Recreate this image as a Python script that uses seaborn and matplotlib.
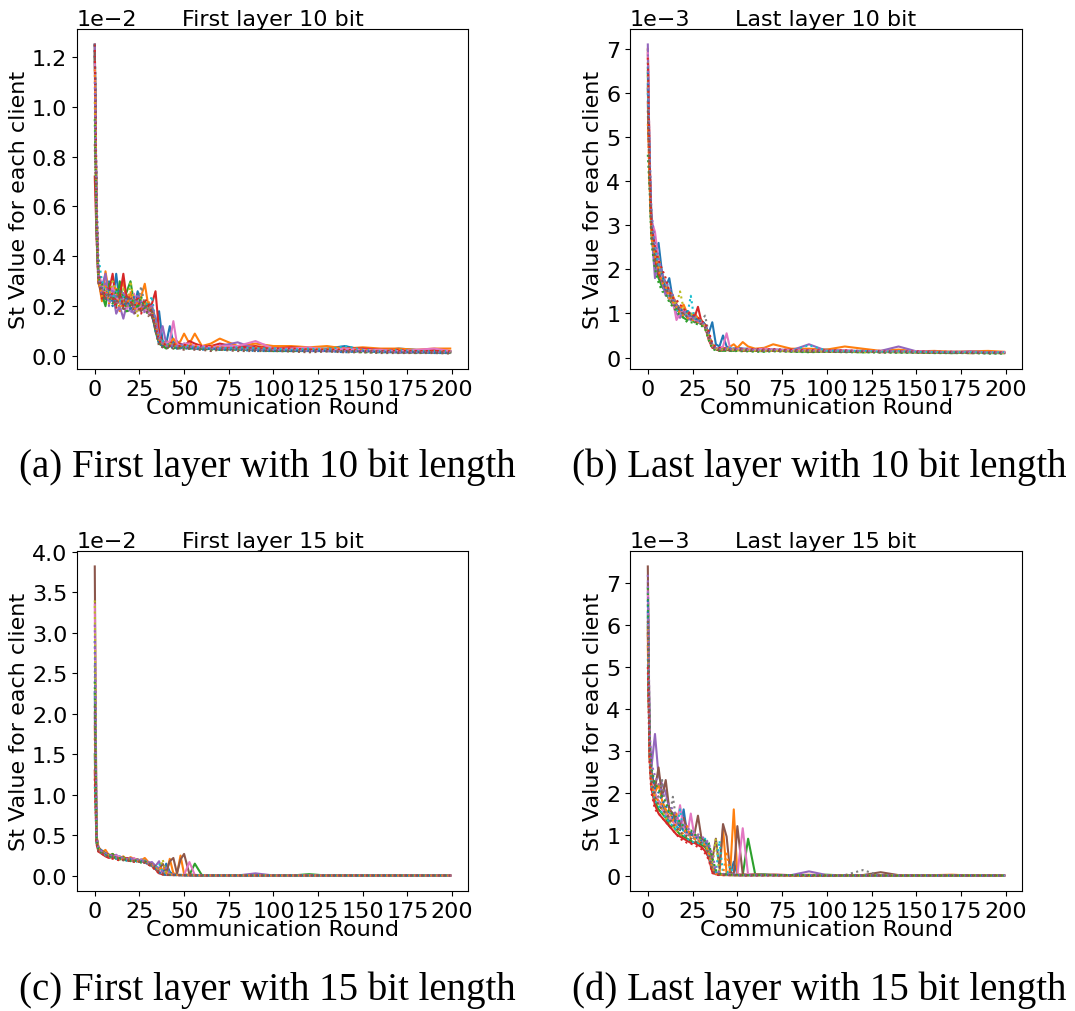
import numpy as np
import pandas as pd
import matplotlib
matplotlib.use("Agg")
import matplotlib.pyplot as plt
import seaborn as sns

# ---------------- data ----------------
rounds = [0, 1, 2, 4, 6, 8, 10, 12, 14, 16,
          18, 20, 22, 24, 26, 28, 30, 32, 34, 36,
          38, 40, 42, 44, 46, 48, 50, 53, 56, 60,
          65, 70, 80, 90, 100, 110, 120, 130, 140, 150,
          160, 170, 180, 190, 199]

client_colors = ["#1f77b4", "#ff7f0e", "#2ca02c", "#d62728", "#9467bd",
                 "#8c564b", "#e377c2", "#7f7f7f", "#bcbd22", "#17becf",
                 "#1f77b4", "#ff7f0e", "#2ca02c", "#d62728", "#9467bd",
                 "#8c564b"]
client_styles = ["-", "-", "-", "-", "-", "-", "-", ":", ":", ":",
                 ":", ":", ":", ":", ":", ":"]

# Panel (a): first layer, 10 bit (units of 1e-2)
first10 = [
    [1.25, 0.55, 0.33, 0.26, 0.24, 0.30, 0.22, 0.33, 0.21, 0.24,
     0.20, 0.23, 0.19, 0.26, 0.21, 0.20, 0.18, 0.16, 0.12, 0.18,
     0.06, 0.05, 0.12, 0.05, 0.06, 0.04, 0.05, 0.04, 0.04, 0.03,
     0.035, 0.03, 0.04, 0.03, 0.035, 0.025, 0.03, 0.03, 0.04, 0.025,
     0.02, 0.03, 0.025, 0.02, 0.02],
    [1.25, 0.60, 0.31, 0.22, 0.34, 0.25, 0.27, 0.22, 0.26, 0.30,
     0.21, 0.25, 0.22, 0.20, 0.24, 0.29, 0.20, 0.19, 0.14, 0.08,
     0.05, 0.06, 0.05, 0.07, 0.05, 0.06, 0.09, 0.05, 0.09, 0.04,
     0.05, 0.07, 0.04, 0.05, 0.04, 0.04, 0.035, 0.04, 0.03, 0.035,
     0.03, 0.03, 0.025, 0.03, 0.03],
    [1.20, 0.52, 0.34, 0.25, 0.20, 0.29, 0.24, 0.20, 0.30, 0.22,
     0.26, 0.30, 0.21, 0.20, 0.19, 0.22, 0.19, 0.17, 0.10, 0.05,
     0.04, 0.03, 0.04, 0.05, 0.03, 0.04, 0.03, 0.04, 0.03, 0.03,
     0.03, 0.025, 0.03, 0.025, 0.02, 0.025, 0.02, 0.025, 0.02, 0.02,
     0.02, 0.015, 0.02, 0.015, 0.015],
    [0.72, 0.48, 0.30, 0.27, 0.23, 0.26, 0.33, 0.21, 0.24, 0.33,
     0.22, 0.20, 0.24, 0.21, 0.22, 0.19, 0.20, 0.21, 0.26, 0.10,
     0.05, 0.04, 0.06, 0.04, 0.05, 0.05, 0.04, 0.06, 0.05, 0.04,
     0.04, 0.05, 0.035, 0.04, 0.03, 0.035, 0.03, 0.025, 0.03, 0.03,
     0.025, 0.025, 0.02, 0.025, 0.02],
    [1.25, 0.50, 0.32, 0.28, 0.33, 0.22, 0.26, 0.17, 0.20, 0.15,
     0.21, 0.19, 0.17, 0.22, 0.20, 0.18, 0.19, 0.20, 0.15, 0.07,
     0.12, 0.05, 0.04, 0.05, 0.04, 0.03, 0.04, 0.035, 0.03, 0.04,
     0.03, 0.04, 0.055, 0.03, 0.03, 0.025, 0.02, 0.025, 0.025, 0.02,
     0.02, 0.02, 0.02, 0.015, 0.015],
    [1.22, 0.58, 0.30, 0.24, 0.26, 0.24, 0.23, 0.25, 0.22, 0.20,
     0.24, 0.21, 0.20, 0.19, 0.18, 0.20, 0.18, 0.16, 0.11, 0.06,
     0.04, 0.04, 0.05, 0.04, 0.04, 0.035, 0.04, 0.03, 0.035, 0.03,
     0.03, 0.03, 0.03, 0.025, 0.025, 0.02, 0.025, 0.02, 0.02, 0.02,
     0.02, 0.015, 0.015, 0.015, 0.015],
    [1.18, 0.62, 0.33, 0.29, 0.25, 0.22, 0.28, 0.24, 0.21, 0.23,
     0.19, 0.22, 0.25, 0.18, 0.21, 0.19, 0.17, 0.18, 0.13, 0.07,
     0.05, 0.05, 0.06, 0.14, 0.05, 0.04, 0.05, 0.05, 0.04, 0.04,
     0.035, 0.04, 0.04, 0.06, 0.03, 0.03, 0.035, 0.025, 0.03, 0.025,
     0.025, 0.02, 0.025, 0.03, 0.02],
    [1.25, 0.56, 0.32, 0.27, 0.24, 0.23, 0.25, 0.22, 0.24, 0.21,
     0.22, 0.20, 0.23, 0.21, 0.28, 0.20, 0.19, 0.20, 0.14, 0.08,
     0.05, 0.05, 0.04, 0.05, 0.04, 0.04, 0.035, 0.04, 0.035, 0.03,
     0.03, 0.035, 0.03, 0.03, 0.025, 0.025, 0.02, 0.025, 0.02, 0.02,
     0.02, 0.015, 0.02, 0.015, 0.012],
    [1.02, 0.54, 0.31, 0.26, 0.28, 0.24, 0.30, 0.26, 0.19, 0.27,
     0.18, 0.30, 0.22, 0.16, 0.23, 0.21, 0.18, 0.19, 0.12, 0.06,
     0.045, 0.04, 0.05, 0.045, 0.04, 0.04, 0.03, 0.035, 0.04, 0.03,
     0.03, 0.03, 0.025, 0.03, 0.025, 0.02, 0.025, 0.02, 0.02, 0.02,
     0.015, 0.02, 0.015, 0.015, 0.015],
    [1.25, 0.66, 0.40, 0.30, 0.27, 0.25, 0.23, 0.26, 0.22, 0.24,
     0.20, 0.22, 0.21, 0.23, 0.19, 0.22, 0.20, 0.24, 0.13, 0.07,
     0.06, 0.05, 0.04, 0.05, 0.04, 0.045, 0.04, 0.04, 0.035, 0.035,
     0.03, 0.03, 0.035, 0.03, 0.03, 0.025, 0.03, 0.025, 0.04, 0.025,
     0.02, 0.025, 0.02, 0.02, 0.02],
    [1.25, 0.58, 0.34, 0.27, 0.22, 0.27, 0.20, 0.24, 0.27, 0.19,
     0.23, 0.18, 0.24, 0.20, 0.22, 0.19, 0.21, 0.18, 0.10, 0.05,
     0.04, 0.04, 0.03, 0.04, 0.03, 0.035, 0.03, 0.03, 0.03, 0.025,
     0.03, 0.025, 0.025, 0.02, 0.02, 0.02, 0.02, 0.02, 0.015, 0.02,
     0.015, 0.015, 0.015, 0.012, 0.012],
    [1.15, 0.53, 0.30, 0.24, 0.29, 0.21, 0.25, 0.28, 0.18, 0.22,
     0.20, 0.26, 0.18, 0.22, 0.19, 0.21, 0.22, 0.18, 0.13, 0.06,
     0.05, 0.04, 0.05, 0.04, 0.05, 0.04, 0.04, 0.05, 0.04, 0.035,
     0.04, 0.035, 0.03, 0.035, 0.03, 0.03, 0.025, 0.03, 0.025, 0.025,
     0.02, 0.025, 0.02, 0.02, 0.02],
    [0.95, 0.50, 0.31, 0.29, 0.25, 0.23, 0.21, 0.27, 0.23, 0.25,
     0.17, 0.21, 0.23, 0.19, 0.24, 0.18, 0.17, 0.19, 0.11, 0.05,
     0.04, 0.035, 0.04, 0.03, 0.035, 0.03, 0.035, 0.03, 0.03, 0.03,
     0.025, 0.03, 0.025, 0.025, 0.02, 0.02, 0.02, 0.02, 0.02, 0.015,
     0.015, 0.015, 0.012, 0.015, 0.012],
    [1.25, 0.61, 0.35, 0.23, 0.26, 0.28, 0.24, 0.19, 0.25, 0.20,
     0.25, 0.22, 0.19, 0.24, 0.17, 0.23, 0.21, 0.17, 0.12, 0.06,
     0.05, 0.045, 0.04, 0.05, 0.04, 0.04, 0.045, 0.04, 0.035, 0.04,
     0.035, 0.03, 0.035, 0.03, 0.03, 0.03, 0.025, 0.025, 0.025, 0.02,
     0.02, 0.02, 0.02, 0.02, 0.018],
    [1.10, 0.57, 0.32, 0.25, 0.30, 0.20, 0.27, 0.23, 0.18, 0.26,
     0.21, 0.17, 0.20, 0.25, 0.22, 0.17, 0.18, 0.21, 0.14, 0.07,
     0.05, 0.04, 0.045, 0.04, 0.04, 0.05, 0.035, 0.04, 0.03, 0.035,
     0.03, 0.03, 0.03, 0.025, 0.025, 0.025, 0.02, 0.02, 0.02, 0.02,
     0.018, 0.015, 0.015, 0.015, 0.015],
    [0.85, 0.47, 0.29, 0.26, 0.23, 0.25, 0.22, 0.21, 0.26, 0.18,
     0.22, 0.24, 0.17, 0.18, 0.20, 0.21, 0.16, 0.18, 0.10, 0.04,
     0.035, 0.03, 0.035, 0.03, 0.03, 0.03, 0.025, 0.03, 0.025, 0.025,
     0.02, 0.025, 0.02, 0.02, 0.02, 0.018, 0.015, 0.018, 0.015, 0.015,
     0.012, 0.012, 0.012, 0.012, 0.01],
]

# Panel (b): last layer, 10 bit (units of 1e-3)
last10 = [
    [6.2, 4.2, 3.25, 2.4, 2.6, 1.9, 1.6, 1.8, 1.3, 1.2,
     1.1, 1.0, 0.95, 1.0, 0.9, 0.85, 0.8, 0.75, 0.55, 0.80,
     0.3, 0.25, 0.5, 0.25, 0.2, 0.2, 0.22, 0.2, 0.2, 0.18,
     0.2, 0.18, 0.17, 0.16, 0.18, 0.15, 0.15, 0.14, 0.15, 0.13,
     0.12, 0.13, 0.12, 0.12, 0.11],
    [7.0, 4.5, 3.1, 2.3, 2.0, 1.8, 1.7, 1.5, 1.4, 1.2,
     1.1, 1.2, 1.0, 0.95, 1.0, 0.9, 0.85, 0.7, 0.5, 0.3,
     0.2, 0.18, 0.22, 0.2, 0.25, 0.3, 0.22, 0.35, 0.25, 0.2,
     0.22, 0.3, 0.2, 0.2, 0.18, 0.25, 0.2, 0.15, 0.18, 0.14,
     0.15, 0.13, 0.14, 0.15, 0.13],
    [6.5, 4.0, 2.8, 2.1, 1.8, 1.6, 1.5, 1.3, 1.2, 1.1,
     1.0, 0.9, 0.85, 0.9, 0.8, 0.8, 0.75, 0.7, 0.45, 0.25,
     0.18, 0.16, 0.15, 0.17, 0.16, 0.15, 0.17, 0.16, 0.15, 0.15,
     0.14, 0.16, 0.14, 0.13, 0.14, 0.13, 0.12, 0.13, 0.12, 0.12,
     0.11, 0.1, 0.11, 0.1, 0.1],
    [5.8, 4.1, 3.0, 2.2, 1.9, 1.7, 1.5, 1.4, 1.3, 1.2,
     1.05, 1.0, 1.0, 0.95, 0.9, 1.15, 0.8, 0.7, 0.4, 0.22,
     0.2, 0.15, 0.18, 0.2, 0.15, 0.18, 0.2, 0.15, 0.18, 0.16,
     0.15, 0.15, 0.18, 0.14, 0.15, 0.14, 0.15, 0.12, 0.13, 0.12,
     0.11, 0.12, 0.1, 0.11, 0.1],
    [7.1, 4.4, 2.9, 1.8, 2.2, 1.7, 1.4, 1.5, 1.2, 1.0,
     0.9, 1.1, 0.9, 0.85, 0.95, 0.8, 0.78, 0.72, 0.5, 0.3,
     0.22, 0.2, 0.18, 0.22, 0.18, 0.2, 0.18, 0.2, 0.17, 0.18,
     0.2, 0.17, 0.16, 0.3, 0.15, 0.16, 0.14, 0.15, 0.25, 0.14,
     0.13, 0.12, 0.14, 0.12, 0.12],
    [6.1, 4.3, 3.0, 2.4, 2.0, 1.8, 1.6, 1.4, 1.3, 1.2,
     1.1, 1.0, 0.95, 0.9, 0.9, 0.85, 0.8, 0.75, 0.5, 0.28,
     0.2, 0.18, 0.2, 0.17, 0.18, 0.2, 0.17, 0.18, 0.16, 0.17,
     0.15, 0.16, 0.15, 0.15, 0.14, 0.13, 0.14, 0.13, 0.13, 0.12,
     0.12, 0.11, 0.12, 0.11, 0.11],
    [6.9, 4.6, 3.1, 2.85, 2.2, 1.8, 1.7, 1.3, 1.3, 0.85,
     1.0, 1.1, 0.95, 0.9, 0.85, 0.8, 0.8, 0.7, 0.45, 0.25,
     0.2, 0.22, 0.25, 0.55, 0.2, 0.18, 0.2, 0.18, 0.2, 0.17,
     0.2, 0.18, 0.17, 0.16, 0.15, 0.16, 0.14, 0.15, 0.13, 0.14,
     0.12, 0.13, 0.12, 0.11, 0.12],
    [6.7, 4.4, 3.0, 2.3, 2.1, 1.9, 1.7, 1.5, 1.3, 1.2,
     1.1, 1.05, 1.0, 0.95, 0.9, 0.85, 0.85, 0.95, 0.55, 0.3,
     0.22, 0.2, 0.2, 0.18, 0.2, 0.18, 0.2, 0.17, 0.18, 0.17,
     0.16, 0.17, 0.16, 0.15, 0.15, 0.14, 0.14, 0.13, 0.14, 0.12,
     0.12, 0.12, 0.11, 0.11, 0.1],
    [6.4, 4.2, 2.9, 2.4, 2.3, 1.8, 1.6, 1.5, 1.3, 1.2,
     1.5, 1.1, 1.0, 1.0, 0.9, 0.85, 0.8, 0.7, 0.5, 0.3,
     0.2, 0.2, 0.18, 0.2, 0.17, 0.18, 0.16, 0.17, 0.16, 0.15,
     0.15, 0.15, 0.14, 0.15, 0.13, 0.14, 0.12, 0.13, 0.12, 0.12,
     0.11, 0.12, 0.1, 0.11, 0.1],
    [6.0, 4.7, 3.2, 2.5, 2.1, 1.9, 1.6, 1.4, 1.25, 1.1,
     1.0, 1.0, 0.95, 1.4, 0.85, 0.85, 0.8, 0.7, 0.45, 0.25,
     0.2, 0.18, 0.2, 0.18, 0.22, 0.2, 0.18, 0.2, 0.18, 0.16,
     0.17, 0.16, 0.15, 0.28, 0.15, 0.14, 0.15, 0.13, 0.14, 0.13,
     0.12, 0.12, 0.12, 0.11, 0.12],
    [6.6, 4.3, 3.1, 2.2, 1.9, 1.9, 1.5, 1.6, 1.4, 1.1,
     1.15, 0.95, 1.05, 0.9, 0.95, 0.8, 0.85, 0.75, 0.5, 0.27,
     0.21, 0.19, 0.17, 0.19, 0.18, 0.17, 0.19, 0.17, 0.17, 0.16,
     0.16, 0.15, 0.15, 0.14, 0.14, 0.13, 0.13, 0.13, 0.12, 0.12,
     0.11, 0.11, 0.11, 0.1, 0.1],
    [5.3, 3.9, 2.7, 2.3, 2.0, 1.7, 1.6, 1.35, 1.25, 1.15,
     1.0, 0.95, 0.9, 0.85, 0.85, 0.8, 0.75, 0.65, 0.42, 0.23,
     0.18, 0.17, 0.18, 0.16, 0.17, 0.19, 0.16, 0.18, 0.17, 0.16,
     0.18, 0.16, 0.17, 0.15, 0.16, 0.15, 0.14, 0.14, 0.13, 0.13,
     0.12, 0.12, 0.13, 0.12, 0.11],
    [4.6, 3.8, 2.6, 2.0, 1.7, 1.5, 1.45, 1.25, 1.15, 1.05,
     0.95, 0.9, 0.8, 0.8, 0.78, 0.75, 0.72, 0.65, 0.4, 0.2,
     0.16, 0.15, 0.16, 0.15, 0.15, 0.14, 0.15, 0.14, 0.14, 0.13,
     0.13, 0.14, 0.13, 0.12, 0.13, 0.12, 0.12, 0.11, 0.11, 0.11,
     0.1, 0.1, 0.1, 0.09, 0.09],
    [6.8, 4.5, 3.0, 2.5, 2.2, 2.0, 1.8, 1.5, 1.35, 1.3,
     1.2, 1.1, 1.05, 1.0, 0.95, 0.9, 0.82, 0.78, 0.6, 0.32,
     0.24, 0.22, 0.21, 0.2, 0.19, 0.21, 0.19, 0.2, 0.18, 0.19,
     0.18, 0.19, 0.17, 0.17, 0.16, 0.16, 0.15, 0.15, 0.14, 0.14,
     0.13, 0.13, 0.12, 0.12, 0.12],
    [7.0, 4.6, 3.3, 2.6, 2.3, 1.9, 1.7, 1.6, 1.4, 1.2,
     1.1, 1.05, 0.95, 0.92, 0.88, 0.83, 0.8, 0.73, 0.52, 0.28,
     0.2, 0.19, 0.2, 0.18, 0.19, 0.18, 0.19, 0.18, 0.17, 0.17,
     0.16, 0.17, 0.15, 0.16, 0.15, 0.14, 0.15, 0.14, 0.14, 0.13,
     0.13, 0.12, 0.12, 0.12, 0.11],
    [5.6, 4.0, 2.8, 2.2, 1.9, 1.75, 1.55, 1.45, 1.2, 1.15,
     1.05, 0.98, 0.92, 0.88, 0.82, 0.78, 0.76, 0.68, 0.47, 0.24,
     0.19, 0.17, 0.17, 0.18, 0.16, 0.17, 0.16, 0.16, 0.16, 0.15,
     0.15, 0.15, 0.14, 0.14, 0.13, 0.13, 0.13, 0.12, 0.12, 0.12,
     0.11, 0.11, 0.1, 0.1, 0.1],
]

# Panel (c): first layer, 15 bit (units of 1e-2)
first15 = [
    [2.27, 0.45, 0.33, 0.30, 0.28, 0.26, 0.25, 0.22, 0.24, 0.21,
     0.22, 0.20, 0.21, 0.19, 0.20, 0.18, 0.16, 0.14, 0.10, 0.05,
     0.02, 0.15, 0.05, 0.01, 0.01, 0.01, 0.008, 0.008, 0.006, 0.005,
     0.005, 0.004, 0.004, 0.004, 0.004, 0.003, 0.003, 0.003, 0.003, 0.003,
     0.003, 0.003, 0.003, 0.003, 0.003],
    [1.85, 0.50, 0.36, 0.29, 0.32, 0.25, 0.27, 0.23, 0.22, 0.24,
     0.20, 0.23, 0.21, 0.20, 0.19, 0.22, 0.17, 0.14, 0.12, 0.06,
     0.03, 0.02, 0.21, 0.03, 0.02, 0.25, 0.02, 0.01, 0.008, 0.006,
     0.005, 0.005, 0.004, 0.004, 0.004, 0.003, 0.003, 0.003, 0.003, 0.003,
     0.003, 0.003, 0.003, 0.003, 0.003],
    [1.50, 0.42, 0.32, 0.28, 0.26, 0.24, 0.27, 0.22, 0.20, 0.23,
     0.19, 0.21, 0.18, 0.20, 0.17, 0.18, 0.15, 0.13, 0.09, 0.05,
     0.03, 0.02, 0.01, 0.01, 0.01, 0.01, 0.01, 0.01, 0.15, 0.006,
     0.005, 0.005, 0.004, 0.004, 0.004, 0.003, 0.02, 0.003, 0.003, 0.003,
     0.003, 0.003, 0.003, 0.003, 0.003],
    [1.30, 0.40, 0.30, 0.27, 0.24, 0.22, 0.25, 0.21, 0.23, 0.20,
     0.22, 0.19, 0.20, 0.18, 0.19, 0.17, 0.14, 0.12, 0.08, 0.03,
     0.02, 0.01, 0.01, 0.01, 0.01, 0.008, 0.008, 0.007, 0.006, 0.005,
     0.005, 0.004, 0.004, 0.004, 0.003, 0.003, 0.003, 0.003, 0.003, 0.003,
     0.003, 0.003, 0.003, 0.003, 0.003],
    [2.00, 0.44, 0.34, 0.30, 0.27, 0.25, 0.23, 0.26, 0.22, 0.21,
     0.20, 0.22, 0.19, 0.18, 0.20, 0.19, 0.16, 0.17, 0.12, 0.18,
     0.04, 0.02, 0.01, 0.01, 0.01, 0.01, 0.008, 0.007, 0.006, 0.005,
     0.005, 0.005, 0.004, 0.03, 0.004, 0.003, 0.003, 0.003, 0.003, 0.003,
     0.003, 0.003, 0.003, 0.003, 0.003],
    [3.82, 0.48, 0.35, 0.31, 0.28, 0.26, 0.24, 0.23, 0.21, 0.22,
     0.20, 0.21, 0.19, 0.20, 0.18, 0.17, 0.16, 0.14, 0.12, 0.08,
     0.15, 0.05, 0.18, 0.22, 0.03, 0.20, 0.27, 0.02, 0.01, 0.008,
     0.006, 0.005, 0.004, 0.004, 0.004, 0.003, 0.003, 0.003, 0.003, 0.003,
     0.003, 0.003, 0.003, 0.003, 0.003],
    [3.35, 0.46, 0.33, 0.29, 0.26, 0.24, 0.22, 0.25, 0.23, 0.21,
     0.19, 0.20, 0.22, 0.18, 0.19, 0.16, 0.15, 0.13, 0.10, 0.06,
     0.03, 0.02, 0.01, 0.01, 0.01, 0.01, 0.01, 0.17, 0.01, 0.01,
     0.006, 0.005, 0.004, 0.004, 0.004, 0.003, 0.003, 0.003, 0.003, 0.003,
     0.003, 0.003, 0.003, 0.003, 0.003],
    [2.60, 0.43, 0.31, 0.28, 0.25, 0.23, 0.22, 0.21, 0.22, 0.20,
     0.19, 0.18, 0.20, 0.17, 0.18, 0.16, 0.15, 0.12, 0.09, 0.04,
     0.02, 0.01, 0.01, 0.01, 0.01, 0.008, 0.008, 0.007, 0.006, 0.005,
     0.005, 0.004, 0.004, 0.004, 0.003, 0.003, 0.003, 0.003, 0.003, 0.003,
     0.003, 0.003, 0.003, 0.003, 0.003],
    [3.40, 0.47, 0.34, 0.30, 0.27, 0.25, 0.24, 0.22, 0.20, 0.21,
     0.22, 0.19, 0.18, 0.20, 0.17, 0.20, 0.16, 0.14, 0.11, 0.06,
     0.20, 0.03, 0.02, 0.01, 0.01, 0.01, 0.008, 0.007, 0.006, 0.005,
     0.005, 0.004, 0.004, 0.004, 0.003, 0.003, 0.003, 0.003, 0.003, 0.003,
     0.003, 0.003, 0.003, 0.003, 0.003],
    [1.10, 0.41, 0.32, 0.29, 0.26, 0.24, 0.23, 0.21, 0.20, 0.22,
     0.18, 0.20, 0.19, 0.17, 0.18, 0.17, 0.15, 0.13, 0.10, 0.15,
     0.05, 0.02, 0.01, 0.01, 0.01, 0.01, 0.008, 0.007, 0.006, 0.005,
     0.005, 0.004, 0.004, 0.004, 0.003, 0.003, 0.003, 0.003, 0.003, 0.003,
     0.003, 0.003, 0.003, 0.003, 0.003],
    [2.90, 0.47, 0.34, 0.31, 0.27, 0.25, 0.24, 0.23, 0.21, 0.22,
     0.19, 0.20, 0.18, 0.19, 0.18, 0.17, 0.15, 0.13, 0.09, 0.04,
     0.02, 0.01, 0.01, 0.01, 0.008, 0.008, 0.007, 0.006, 0.005, 0.005,
     0.004, 0.004, 0.004, 0.003, 0.003, 0.003, 0.003, 0.003, 0.003, 0.003,
     0.003, 0.003, 0.003, 0.003, 0.003],
    [1.70, 0.44, 0.33, 0.29, 0.26, 0.24, 0.22, 0.24, 0.20, 0.21,
     0.21, 0.19, 0.20, 0.18, 0.17, 0.19, 0.16, 0.14, 0.11, 0.07,
     0.12, 0.03, 0.02, 0.01, 0.01, 0.01, 0.008, 0.007, 0.006, 0.005,
     0.005, 0.004, 0.004, 0.004, 0.003, 0.003, 0.003, 0.003, 0.003, 0.003,
     0.003, 0.003, 0.003, 0.003, 0.003],
    [2.40, 0.46, 0.32, 0.28, 0.27, 0.23, 0.25, 0.21, 0.22, 0.20,
     0.20, 0.18, 0.19, 0.19, 0.16, 0.18, 0.14, 0.12, 0.08, 0.04,
     0.02, 0.01, 0.01, 0.01, 0.01, 0.008, 0.008, 0.007, 0.006, 0.005,
     0.005, 0.004, 0.004, 0.004, 0.003, 0.003, 0.003, 0.003, 0.003, 0.003,
     0.003, 0.003, 0.003, 0.003, 0.003],
    [1.20, 0.39, 0.30, 0.27, 0.25, 0.22, 0.21, 0.20, 0.19, 0.20,
     0.18, 0.19, 0.17, 0.18, 0.17, 0.16, 0.14, 0.11, 0.07, 0.03,
     0.015, 0.01, 0.01, 0.008, 0.008, 0.007, 0.007, 0.006, 0.005, 0.005,
     0.004, 0.004, 0.003, 0.003, 0.003, 0.003, 0.003, 0.003, 0.003, 0.003,
     0.003, 0.003, 0.003, 0.003, 0.003],
    [3.10, 0.49, 0.35, 0.30, 0.28, 0.26, 0.25, 0.23, 0.22, 0.23,
     0.21, 0.20, 0.21, 0.20, 0.19, 0.18, 0.17, 0.15, 0.13, 0.09,
     0.05, 0.10, 0.03, 0.02, 0.01, 0.01, 0.01, 0.008, 0.007, 0.006,
     0.005, 0.005, 0.004, 0.004, 0.004, 0.003, 0.003, 0.003, 0.003, 0.003,
     0.003, 0.003, 0.003, 0.003, 0.003],
    [2.10, 0.43, 0.31, 0.29, 0.25, 0.24, 0.23, 0.22, 0.21, 0.19,
     0.20, 0.18, 0.18, 0.17, 0.18, 0.16, 0.15, 0.13, 0.10, 0.05,
     0.03, 0.015, 0.01, 0.01, 0.01, 0.008, 0.008, 0.007, 0.006, 0.005,
     0.005, 0.004, 0.004, 0.004, 0.003, 0.003, 0.003, 0.003, 0.003, 0.003,
     0.003, 0.003, 0.003, 0.003, 0.003],
]

# Panel (d): last layer, 15 bit (units of 1e-3)
last15 = [
    [6.3, 3.0, 2.3, 1.9, 1.8, 1.7, 1.5, 1.3, 1.4, 1.2,
     1.1, 1.6, 1.0, 1.05, 0.95, 0.9, 0.9, 0.85, 0.7, 0.2,
     0.08, 0.05, 0.05, 0.04, 0.04, 0.35, 0.04, 0.03, 0.03, 0.03,
     0.03, 0.03, 0.02, 0.02, 0.02, 0.02, 0.02, 0.02, 0.02, 0.02,
     0.02, 0.02, 0.02, 0.02, 0.02],
    [5.5, 3.1, 2.4, 2.0, 2.2, 1.8, 1.6, 1.4, 1.3, 1.5,
     1.2, 1.1, 1.0, 1.0, 0.95, 0.9, 0.85, 0.8, 0.6, 0.3,
     0.1, 0.05, 1.15, 0.05, 0.1, 1.6, 0.05, 0.04, 0.03, 0.05,
     0.04, 0.03, 0.03, 0.04, 0.03, 0.03, 0.03, 0.02, 0.03, 0.02,
     0.03, 0.04, 0.02, 0.02, 0.02],
    [6.0, 2.9, 2.2, 1.8, 1.6, 1.5, 1.4, 1.2, 1.2, 1.1,
     1.0, 0.95, 0.9, 0.85, 0.8, 0.8, 0.75, 0.7, 0.55, 0.15,
     0.06, 0.05, 0.04, 0.04, 0.03, 0.03, 0.03, 0.03, 0.9, 0.04,
     0.05, 0.03, 0.03, 0.02, 0.04, 0.02, 0.02, 0.02, 0.02, 0.02,
     0.02, 0.02, 0.02, 0.02, 0.02],
    [5.8, 2.8, 2.1, 1.7, 1.5, 1.4, 1.3, 1.2, 1.1, 1.0,
     0.95, 0.9, 0.85, 0.8, 0.8, 0.75, 0.7, 0.6, 0.45, 0.1,
     0.05, 0.04, 0.03, 0.03, 0.03, 0.03, 0.03, 0.03, 0.03, 0.03,
     0.03, 0.04, 0.03, 0.02, 0.02, 0.02, 0.02, 0.02, 0.02, 0.02,
     0.02, 0.02, 0.02, 0.02, 0.02],
    [7.0, 3.4, 2.6, 3.4, 2.4, 2.2, 2.0, 1.6, 1.5, 1.4,
     1.3, 1.2, 1.1, 1.0, 1.0, 0.95, 0.9, 0.85, 0.75, 0.3,
     0.1, 0.06, 0.05, 0.05, 0.04, 0.04, 0.03, 0.03, 0.03, 0.03,
     0.04, 0.03, 0.03, 0.12, 0.03, 0.02, 0.02, 0.02, 0.02, 0.02,
     0.02, 0.02, 0.02, 0.02, 0.02],
    [7.4, 3.2, 2.5, 2.1, 2.6, 1.9, 2.3, 1.6, 1.5, 1.3,
     1.2, 1.4, 1.1, 1.0, 1.0, 1.45, 0.9, 0.8, 0.7, 0.4,
     0.9, 0.2, 1.25, 0.95, 0.1, 0.05, 1.2, 0.05, 0.04, 0.05,
     0.03, 0.04, 0.03, 0.03, 0.03, 0.03, 0.03, 0.1, 0.03, 0.02,
     0.02, 0.02, 0.02, 0.02, 0.02],
    [6.8, 3.0, 2.3, 2.0, 1.8, 1.6, 1.5, 1.4, 1.3, 1.2,
     1.7, 1.1, 1.0, 1.5, 0.95, 0.9, 0.85, 0.8, 0.6, 0.25,
     0.08, 0.06, 0.05, 0.05, 0.05, 0.04, 0.04, 1.15, 0.04, 0.04,
     0.03, 0.03, 0.03, 0.03, 0.03, 0.02, 0.02, 0.02, 0.03, 0.02,
     0.02, 0.02, 0.02, 0.02, 0.02],
    [6.5, 3.1, 2.4, 2.0, 1.9, 2.3, 1.5, 1.4, 1.9, 1.3,
     1.2, 1.1, 1.0, 0.95, 0.9, 0.85, 0.85, 0.8, 0.65, 0.2,
     0.07, 0.05, 0.04, 0.04, 0.04, 0.03, 0.03, 0.03, 0.03, 0.03,
     0.03, 0.03, 0.03, 0.03, 0.03, 0.03, 0.15, 0.02, 0.02, 0.02,
     0.02, 0.02, 0.02, 0.02, 0.02],
    [6.2, 2.9, 2.2, 1.9, 1.7, 1.6, 1.4, 1.3, 1.2, 1.1,
     1.0, 1.0, 0.95, 0.9, 0.85, 1.0, 0.8, 0.75, 0.6, 0.2,
     0.9, 0.05, 0.04, 0.04, 0.03, 0.03, 0.03, 0.03, 0.03, 0.03,
     0.03, 0.03, 0.02, 0.02, 0.02, 0.02, 0.02, 0.02, 0.02, 0.02,
     0.02, 0.02, 0.03, 0.02, 0.02],
    [5.2, 3.0, 2.2, 1.8, 1.7, 1.5, 1.4, 1.3, 1.2, 1.1,
     1.6, 1.0, 0.9, 0.85, 0.8, 0.8, 0.75, 0.9, 0.5, 0.2,
     0.06, 0.85, 0.05, 0.04, 0.25, 0.03, 0.03, 0.03, 0.03, 0.03,
     0.03, 0.03, 0.03, 0.02, 0.02, 0.02, 0.02, 0.02, 0.02, 0.02,
     0.02, 0.02, 0.02, 0.02, 0.02],
    [6.6, 3.2, 2.5, 2.1, 2.0, 1.8, 1.7, 1.5, 1.4, 1.3,
     1.2, 1.1, 1.05, 1.0, 0.95, 0.9, 0.85, 0.8, 0.7, 0.25,
     0.08, 0.05, 0.05, 0.04, 0.04, 0.04, 0.03, 0.03, 0.03, 0.03,
     0.03, 0.03, 0.03, 0.02, 0.02, 0.02, 0.02, 0.02, 0.02, 0.02,
     0.02, 0.02, 0.02, 0.02, 0.02],
    [5.9, 2.9, 2.2, 1.9, 1.8, 1.7, 1.6, 1.6, 1.3, 1.2,
     1.1, 1.0, 1.2, 0.9, 0.9, 0.85, 0.8, 0.75, 0.6, 0.2,
     0.06, 0.05, 0.04, 0.6, 0.04, 0.03, 0.03, 0.03, 0.03, 0.03,
     0.03, 0.03, 0.02, 0.02, 0.02, 0.02, 0.02, 0.02, 0.02, 0.02,
     0.02, 0.02, 0.02, 0.02, 0.02],
    [6.9, 3.3, 2.6, 2.2, 2.1, 1.9, 1.8, 1.5, 1.5, 1.4,
     1.3, 1.2, 1.1, 1.1, 1.0, 0.95, 0.9, 0.85, 0.8, 0.45,
     0.15, 0.07, 0.05, 0.05, 0.04, 0.04, 0.04, 0.03, 0.03, 0.03,
     0.03, 0.03, 0.03, 0.03, 0.02, 0.02, 0.02, 0.02, 0.02, 0.02,
     0.02, 0.02, 0.02, 0.02, 0.02],
    [5.0, 2.7, 2.0, 1.6, 1.5, 1.4, 1.3, 1.2, 1.1, 1.0,
     0.9, 0.85, 0.8, 0.78, 0.75, 0.7, 0.65, 0.55, 0.4, 0.08,
     0.04, 0.03, 0.03, 0.03, 0.03, 0.03, 0.03, 0.02, 0.02, 0.02,
     0.02, 0.02, 0.02, 0.02, 0.02, 0.02, 0.02, 0.02, 0.02, 0.02,
     0.02, 0.02, 0.02, 0.02, 0.02],
    [7.2, 3.5, 2.7, 2.4, 2.2, 2.0, 1.9, 1.7, 1.6, 1.4,
     1.35, 1.25, 1.15, 1.1, 1.05, 1.0, 0.95, 0.9, 0.8, 0.5,
     0.2, 0.1, 0.06, 0.05, 0.05, 0.04, 0.04, 0.04, 0.03, 0.03,
     0.03, 0.03, 0.03, 0.03, 0.03, 0.02, 0.02, 0.02, 0.02, 0.02,
     0.02, 0.02, 0.02, 0.02, 0.02],
    [6.1, 3.0, 2.3, 1.9, 1.7, 1.6, 1.5, 1.4, 1.25, 1.15,
     1.05, 1.0, 0.95, 0.9, 0.85, 0.8, 0.8, 0.7, 0.55, 0.15,
     0.06, 0.05, 0.04, 0.04, 0.03, 0.03, 0.03, 0.03, 0.03, 0.03,
     0.03, 0.03, 0.03, 0.02, 0.02, 0.02, 0.02, 0.02, 0.02, 0.02,
     0.02, 0.02, 0.02, 0.02, 0.02],
]

panel_titles = ["First layer 10 bit", "Last layer 10 bit",
                "First layer 15 bit", "Last layer 15 bit"]
panel_units = [1e-2, 1e-3, 1e-2, 1e-3]
panel_yticks = [[0.0, 0.2, 0.4, 0.6, 0.8, 1.0, 1.2],
                [0, 1, 2, 3, 4, 5, 6, 7],
                [0.0, 0.5, 1.0, 1.5, 2.0, 2.5, 3.0, 3.5, 4.0],
                [0, 1, 2, 3, 4, 5, 6, 7]]
captions = ["(a) First layer with 10 bit length", "(b) Last layer with 10 bit length",
            "(c) First layer with 15 bit length", "(d) Last layer with 15 bit length"]
panel_data = [first10, last10, first15, last15]

# ---------------- figure ----------------
W, H = 1075, 1012
fig = plt.figure(figsize=(W / 100, H / 100), dpi=100)
fig.patch.set_facecolor("white")

# axes boxes in pixels: left, top, right, bottom
boxes = [(77, 30, 468, 370), (630, 30, 1022, 370),
         (77, 552, 468, 892), (630, 552, 1022, 892)]
caption_pos = [(267, 467), (819, 467), (267, 990), (819, 990)]

FS = 16
client_names = [f"client {i}" for i in range(len(client_colors))]
palette = dict(zip(client_names, client_colors))
dashes = {n: ("" if s == "-" else (1, 1.65)) for n, s in zip(client_names, client_styles)}

for k in range(4):
    l, t, r, b = boxes[k]
    ax = fig.add_axes([l / W, (H - b) / H, (r - l) / W, (b - t) / H])
    rows = []
    for ci, series in enumerate(panel_data[k]):
        assert len(series) == len(rounds), (k, ci, len(series))
        for rd, v in zip(rounds, series):
            rows.append((rd, v * panel_units[k], client_names[ci]))
    df = pd.DataFrame(rows, columns=["round", "value", "client"])
    sns.lineplot(data=df, x="round", y="value", hue="client", style="client",
                 palette=palette, dashes=dashes, estimator=None, legend=False,
                 linewidth=1.5, ax=ax, sort=False)
    ax.set_title(panel_titles[k], fontsize=FS, pad=3)
    ax.set_xlabel("Communication Round", fontsize=FS, labelpad=-1)
    ax.set_ylabel("St Value for each client", fontsize=FS, labelpad=2)
    ax.set_yticks([v * panel_units[k] for v in panel_yticks[k]])
    ax.tick_params(labelsize=FS)
    ax.set_xticks([0, 25, 50, 75, 100, 125, 150, 175, 200])
    ax.set_xlim(-9.95, 208.95)
    ax.ticklabel_format(axis="y", style="sci", scilimits=(0, 0))
    ax.yaxis.get_offset_text().set_fontsize(FS)

    cx, cy = caption_pos[k]
    fig.text(cx / W, (H - cy) / H, captions[k], ha="center", va="center",
             fontsize=28, family=["Liberation Serif", "DejaVu Serif"])

fig.savefig("out.png", dpi=100, facecolor="white")
